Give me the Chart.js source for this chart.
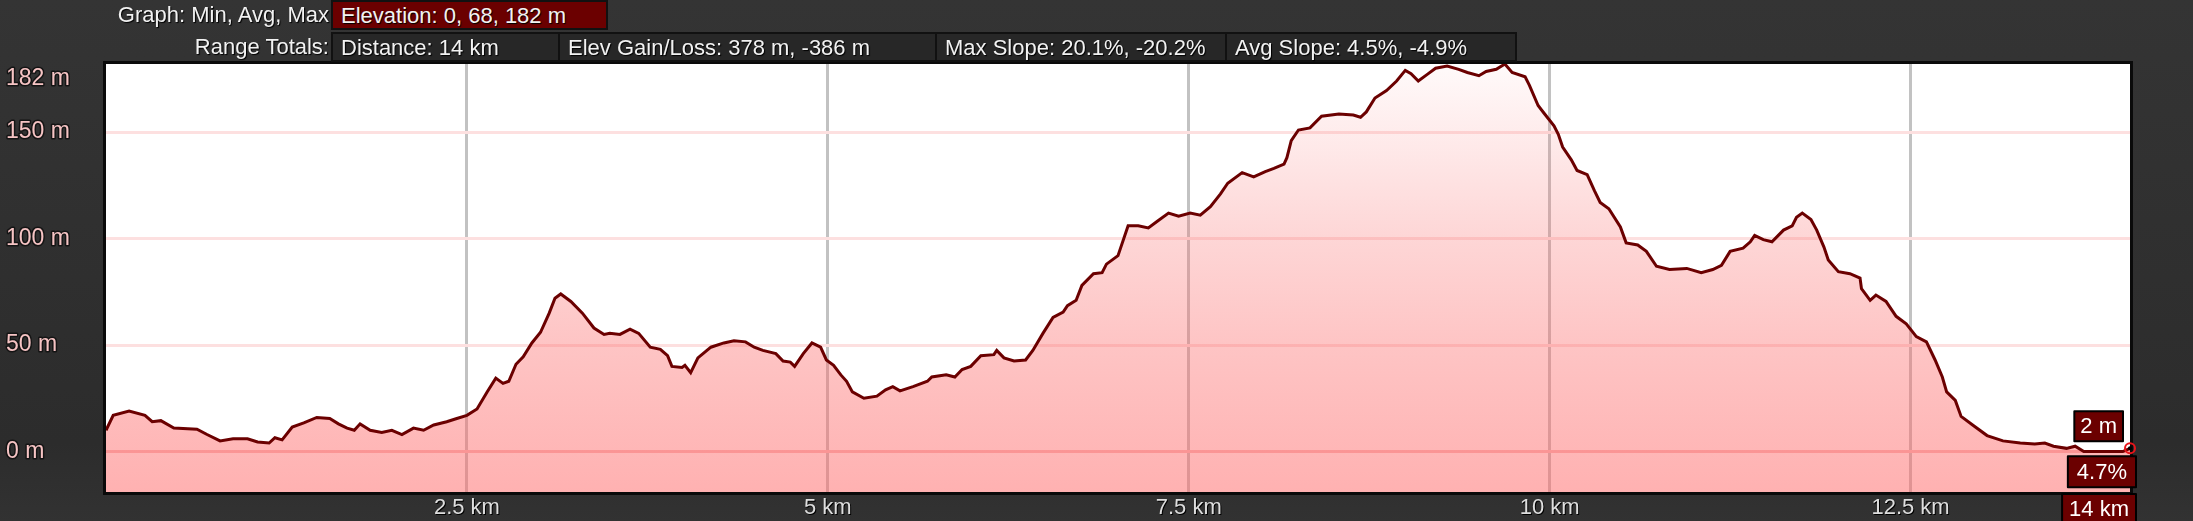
<!DOCTYPE html>
<html>
<head>
<meta charset="utf-8">
<script src="https://cdn.jsdelivr.net/npm/chart.js@4.4.1/dist/chart.umd.min.js"></script>
<style>
body { margin: 0; background: #2f2f2f; }
#wrap { position: relative; width: 2193px; height: 521px; overflow: hidden;
  background: linear-gradient(#343434, #2c2c2c 85%, #323232);
  font-family: "Liberation Sans", Arial, sans-serif; }
#wrap canvas { position: absolute; left: 0; top: 0; }
.hdr { position: absolute; height: 30px; line-height: 27px; font-size: 22px; color: #f2f2f2;
  text-shadow: 1px 1px 1px #000; white-space: nowrap; box-sizing: border-box; }
.lbl { left: 0; width: 329px; text-align: right; }
.box { border: 2px solid #111; background: #272727; padding-left: 8px; }
.red { background: #6b0000; }
</style>
</head>
<body>
<div id="wrap">
  <canvas id="myChart" width="2193" height="521"></canvas>
  <div class="hdr lbl" style="top:1px">Graph: Min, Avg, Max</div>
  <div class="hdr box red" style="top:0px;left:331px;width:277px">Elevation: 0, 68, 182 m</div>
  <div class="hdr lbl" style="top:33px">Range Totals:</div>
  <div class="hdr box" style="top:32px;left:331px;width:229px">Distance: 14 km</div>
  <div class="hdr box" style="top:32px;left:558px;width:379px">Elev Gain/Loss: 378 m, -386 m</div>
  <div class="hdr box" style="top:32px;left:935px;width:292px">Max Slope: 20.1%, -20.2%</div>
  <div class="hdr box" style="top:32px;left:1225px;width:292px">Avg Slope: 4.5%, -4.9%</div>
</div>
<script>
// elevation profile
var distKm = [0.00, 0.05, 0.16, 0.27, 0.32, 0.38, 0.47, 0.63, 0.70, 0.79, 0.88, 0.98, 1.05, 1.13, 1.17, 1.22,
  1.29, 1.37, 1.46, 1.55, 1.61, 1.67, 1.72, 1.76, 1.83, 1.91, 1.98, 2.05, 2.13, 2.20, 2.27, 2.36, 2.43, 2.50,
  2.57, 2.64, 2.70, 2.75, 2.79, 2.84, 2.89, 2.95, 3.01, 3.07, 3.11, 3.15, 3.22, 3.30, 3.38, 3.45, 3.49, 3.56,
  3.63, 3.69, 3.77, 3.84, 3.89, 3.92, 3.99, 4.01, 4.05, 4.10, 4.19, 4.28, 4.35, 4.43, 4.49, 4.55, 4.64, 4.69,
  4.74, 4.77, 4.83, 4.89, 4.95, 4.99, 5.04, 5.09, 5.13, 5.17, 5.25, 5.34, 5.40, 5.45, 5.50, 5.59, 5.69, 5.72,
  5.82, 5.88, 5.93, 5.99, 6.06, 6.15, 6.17, 6.22, 6.29, 6.37, 6.42, 6.49, 6.56, 6.63, 6.66, 6.72, 6.76, 6.84,
  6.90, 6.93, 7.01, 7.08, 7.15, 7.22, 7.28, 7.36, 7.43, 7.51, 7.58, 7.65, 7.72, 7.77, 7.87, 7.95, 8.03, 8.09,
  8.16, 8.18, 8.21, 8.26, 8.34, 8.42, 8.54, 8.64, 8.69, 8.73, 8.79, 8.87, 8.94, 9.00, 9.04, 9.09, 9.15, 9.21,
  9.29, 9.37, 9.43, 9.51, 9.56, 9.63, 9.69, 9.74, 9.83, 9.86, 9.92, 9.96, 10.03, 10.06, 10.09, 10.15, 10.19,
  10.26, 10.31, 10.35, 10.41, 10.49, 10.53, 10.61, 10.67, 10.74, 10.83, 10.95, 11.05, 11.13, 11.19, 11.25,
  11.34, 11.39, 11.42, 11.48, 11.54, 11.62, 11.68, 11.71, 11.75, 11.81, 11.85, 11.90, 11.93, 12.00, 12.08,
  12.15, 12.16, 12.22, 12.26, 12.33, 12.40, 12.47, 12.54, 12.61, 12.67, 12.72, 12.75, 12.81, 12.85, 12.93,
  13.03, 13.14, 13.26, 13.36, 13.43, 13.49, 13.58, 13.64, 13.70, 13.97, 14.02];
var elevM = [10, 17, 19, 17, 14, 14.5, 11, 10.5, 8, 5, 6, 6, 4.5, 4, 6.5, 5.5,
  11.5, 13.5, 16, 15.5, 13, 11, 10, 13, 10, 9, 10, 8, 11, 10, 12.5, 14, 15.5, 17,
  20, 28, 34.5, 32, 33, 41, 44.5, 51, 56, 65, 72, 74, 70.5, 65, 58, 55, 55.5, 55,
  57.5, 55.5, 49, 48, 45, 40, 39.5, 40.5, 37, 44, 49, 51, 52, 51.5, 49, 47.5, 46, 42.5,
  42, 40, 46, 51, 49, 43, 40.5, 36, 33, 28, 25, 26, 29, 30.5, 28.5, 30.5, 33, 35,
  36, 35, 38.5, 40, 45, 45.5, 47.5, 44, 42.5, 43, 47.5, 55.5, 63, 65.5, 68.5, 71, 78, 83.5,
  84, 88, 92, 106, 106, 105, 108, 112, 110.5, 112, 111, 115, 121, 126, 131, 129, 131.5, 133,
  135, 138, 146, 151, 152, 157.5, 158.5, 158, 157, 159.5, 166, 169.5, 174, 179, 177.5, 174, 177, 180,
  181, 179.5, 178, 176.5, 178.5, 179.5, 182, 178, 176, 172, 162.5, 159, 153, 149, 143, 137, 132,
  130, 122.5, 117, 114, 105.5, 98, 97, 94, 87, 85.5, 86, 84, 85.5, 87.5, 94,
  95.5, 98.5, 101.5, 99.5, 98.5, 104, 106, 110, 112, 109, 104, 96, 90, 84.5, 83.5,
  81.5, 76.5, 71, 73.5, 70.5, 63.5, 60, 54, 51.5, 43, 35, 28, 24, 16.5, 12.5,
  7.5, 5, 4, 3.5, 4, 2.5, 1.5, 2.5, 0, 0, 1.5];

var xTicks = [2.5, 5, 7.5, 10, 12.5];
var yTicks = [0, 50, 100, 150, 182];
var endElevLabel = "2 m";
var endSlopeLabel = "4.7%";
var endDistLabel = "14 km";

var points = distKm.map(function (d, i) { return { x: d, y: elevM[i] }; });

function drawBox(ctx, text, right, top, h, pad) {
  var w = ctx.measureText(text).width + pad * 2;
  ctx.fillStyle = "#6b0000";
  ctx.fillRect(right - w, top, w, h);
  ctx.strokeStyle = "#000";
  ctx.lineWidth = 2;
  ctx.strokeRect(right - w, top, w, h);
  ctx.fillStyle = "#fff";
  ctx.textAlign = "center";
  ctx.textBaseline = "middle";
  ctx.fillText(text, right - w / 2, top + h / 2 + 1);
}

var profileDecor = {
  id: "profileDecor",
  beforeDraw: function (chart) {
    var a = chart.chartArea;
    chart.ctx.save();
    chart.ctx.fillStyle = "#fff";
    chart.ctx.fillRect(a.left, a.top, a.right - a.left, a.bottom - a.top);
    chart.ctx.restore();
  },
  afterDatasetsDraw: function (chart) {
    var ctx = chart.ctx, a = chart.chartArea;
    var xs = chart.scales.x, ys = chart.scales.y;
    ctx.save();
    // frame
    ctx.strokeStyle = "#0a0a0a";
    ctx.lineWidth = 3;
    ctx.strokeRect(a.left - 1.5, a.top - 1.5, a.right - a.left + 3, a.bottom - a.top + 3);

    // y labels
    ctx.font = "23px 'Liberation Sans', Arial, sans-serif";
    ctx.textAlign = "left";
    ctx.textBaseline = "middle";
    ctx.lineJoin = "round";
    yTicks.forEach(function (v) {
      var y = Math.max(ys.getPixelForValue(v), a.top + 15);
      var t = v + " m";
      ctx.strokeStyle = "#141414";
      ctx.lineWidth = 3;
      ctx.strokeText(t, 6, y);
      ctx.fillStyle = "#f6c4c4";
      ctx.fillText(t, 6, y);
    });
    // x labels
    ctx.font = "22px 'Liberation Sans', Arial, sans-serif";
    ctx.textAlign = "center";
    xTicks.forEach(function (v) {
      var x = xs.getPixelForValue(v);
      ctx.fillStyle = "#000";
      ctx.fillText(v + " km", x + 1, 509);
      ctx.fillStyle = "#dedede";
      ctx.fillText(v + " km", x, 508);
    });
    // end point marker
    var n = distKm.length - 1;
    var px = xs.getPixelForValue(distKm[n]), py = ys.getPixelForValue(elevM[n]);
    ctx.beginPath();
    ctx.arc(px, py, 5, 0, Math.PI * 2);
    ctx.strokeStyle = "#e8141a";
    ctx.lineWidth = 2;
    ctx.stroke();
    ctx.beginPath();
    ctx.arc(px, py, 2, 0, Math.PI * 2);
    ctx.fillStyle = "#000";
    ctx.fill();

    drawBox(ctx, endElevLabel, px - 7, py - 37, 30, 6);
    drawBox(ctx, endSlopeLabel, px + 6, py + 8, 31, 9);
    drawBox(ctx, endDistLabel, px + 6, a.bottom + 2, 30, 7);
    ctx.restore();
  }
};

var ctxP = document.getElementById("myChart").getContext("2d");
var profileChart = new Chart(ctxP, {
  type: "line",
  data: {
    datasets: [{
      data: points,
      borderColor: "#6b0000",
      borderWidth: 3,
      pointRadius: 0,
      tension: 0,
      fill: "start",
      backgroundColor: function (c) {
        var a = c.chart.chartArea;
        if (!a) return "rgba(255,100,100,0.4)";
        var g = c.chart.ctx.createLinearGradient(0, a.top, 0, a.bottom);
        g.addColorStop(0, "rgba(250,105,105,0.03)");
        g.addColorStop(0.4, "rgba(250,105,105,0.27)");
        g.addColorStop(0.65, "rgba(252,102,102,0.38)");
        g.addColorStop(1, "rgba(255,100,100,0.5)");
        return g;
      }
    }]
  },
  options: {
    responsive: false,
    animation: false,
    layout: { padding: { left: 106, right: 63, top: 64, bottom: 29 } },
    plugins: { legend: { display: false }, tooltip: { enabled: false } },
    scales: {
      x: {
        type: "linear", min: 0, max: 14.02,
        afterBuildTicks: function (s) { s.ticks = xTicks.map(function (v) { return { value: v }; }); },
        ticks: { display: false },
        border: { display: false },
        grid: { color: "#c2c2c2", lineWidth: 3, drawTicks: false }
      },
      y: {
        min: -19, max: 182,
        afterBuildTicks: function (s) { s.ticks = yTicks.map(function (v) { return { value: v }; }); },
        ticks: { display: false },
        border: { display: false },
        grid: {
          drawTicks: false,
          lineWidth: 3,
          color: function (c) {
            if (c.tick.value === 0) return "#f7c0c0";
            if (c.tick.value === 182) return "rgba(0,0,0,0)";
            return "#fde0e0";
          }
        }
      }
    }
  },
  plugins: [profileDecor]
});
</script>
</body>
</html>
